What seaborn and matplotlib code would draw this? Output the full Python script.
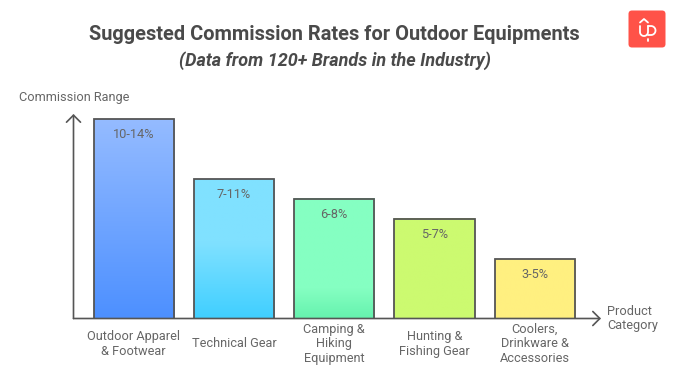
import numpy as np
import pandas as pd
import matplotlib.pyplot as plt
import matplotlib.patches as mpatches
from matplotlib.colors import LinearSegmentedColormap
import seaborn as sns

categories = ['Outdoor Apparel\n& Footwear', 'Technical Gear', 'Camping &\nHiking\nEquipment',
              'Hunting &\nFishing Gear', 'Coolers,\nDrinkware &\nAccessories']
low_rates = [10, 7, 6, 5, 3]
range_labels = ['10-14%', '7-11%', '6-8%', '5-7%', '3-5%']
top_colors = ['#94BBFF', '#80E1FF', '#85FFC2', '#CCFA70', '#FFF080']
bottom_colors = ['#4D90FF', '#40CFFF', '#66F2AE', '#CCFA70', '#FFF080']
# fraction of the bar height that stays at the top colour
flat_until = [0.0, 0.45, 0.75, 0.0, 0.0]

TEXT = '#666666'
DARK = '#4A4A4A'
EDGE = '#555555'
W, H = 681, 384
PX = 0.72  # points per pixel at dpi 100

sns.set_theme(style='white')
plt.rcParams['font.family'] = ['Roboto', 'DejaVu Sans']

fig = plt.figure(figsize=(W / 100, H / 100), dpi=100)
# axes box in pixels: spine at x=73, baseline at y=318.5
left, right, top, bottom = 73.5, 601, 114, 318.5
ax = fig.add_axes([left / W, 1 - bottom / H, (right - left) / W, (bottom - top) / H])

df = pd.DataFrame({'category': categories, 'rate': low_rates})
sns.barplot(data=df, x='category', y='rate', ax=ax, width=0.8, color='white',
            edgecolor=EDGE, linewidth=1.3, zorder=3)

# gradient fills clipped to each bar
for bar, c0, c1, flat, label in zip(ax.patches, top_colors, bottom_colors, flat_until, range_labels):
    cmap = LinearSegmentedColormap.from_list('bar', [(0, c0), (flat, c0), (1, c1)] if flat else [c0, c1])
    x0, w, h = bar.get_x(), bar.get_width(), bar.get_height()
    ax.imshow(np.linspace(0, 1, 64).reshape(-1, 1), cmap=cmap, aspect='auto',
              extent=(x0, x0 + w, 0, h), zorder=2, interpolation='bilinear')
    bar.set_facecolor('none')
    ax.text(x0 + w / 2, h - 0.78, label, ha='center', va='center', fontsize=9.2,
            color=TEXT, zorder=4)
ax.set_xlim(-0.6, 4.66)
ax.set_ylim(0, (bottom - top) / 20)

ax.set_xlabel('')
ax.set_ylabel('')
ax.set_xticks(range(5))
ax.set_xticklabels([])
ax.set_yticks([])
ax.tick_params(length=0)
sns.despine(ax=ax, top=True, right=True, left=True, bottom=True)

# axis arrows
arrow = dict(arrowstyle='->,head_length=0.42,head_width=0.42', color=EDGE, lw=1.2,
             shrinkA=0, shrinkB=0)
ax.annotate('', xy=(0, 1), xytext=(0, 0), xycoords='axes fraction', arrowprops=arrow, zorder=5)
ax.annotate('', xy=(1, 0), xytext=(0, 0), xycoords='axes fraction', arrowprops=arrow, zorder=5)

for i, name in enumerate(categories):
    ax.annotate(name, xy=(i, 0), xytext=(0, -25.3 * PX), textcoords='offset points',
                ha='center', va='center', fontsize=9.15, color=TEXT, linespacing=1.18)


def pix_text(x, y, s, **kw):
    fig.text(x / W, 1 - y / H, s, ha=kw.pop('ha', 'center'), va=kw.pop('va', 'center'), **kw)


pix_text(334, 35, 'Suggested Commission Rates for Outdoor Equipments',
         fontsize=14.4, fontweight='bold', color=DARK)
pix_text(334.5, 61, '(Data from 120+ Brands in the Industry)',
         fontsize=12.95, fontweight='bold', fontstyle='italic', color=DARK)
pix_text(19, 98, 'Commission Range', ha='left', fontsize=9.15, color=TEXT)
pix_text(607, 318.5, 'Product\nCategory', ha='left', fontsize=9.15, color=TEXT, linespacing=1.18)

# logo badge, drawn in pixel coordinates
logo = fig.add_axes([0, 0, 1, 1], zorder=10)
logo.set_xlim(0, W)
logo.set_ylim(H, 0)
logo.axis('off')
logo.patch.set_alpha(0)
logo.add_patch(mpatches.FancyBboxPatch((630.5, 12.5), 33, 33, boxstyle='round,pad=2,rounding_size=3.5',
                                       fc='#FF5248', ec='none'))
glyph = dict(color='white', lw=1.3, solid_capstyle='round')
logo.plot([640, 644, 648], [22.5, 19, 22.5], **glyph)
t = np.linspace(np.pi, 0, 20)
logo.plot(np.r_[640, 644 + 4 * np.cos(t), 648], np.r_[26, 32 + 4 * np.sin(t), 26], **glyph)
t2 = np.linspace(-np.pi / 2, np.pi / 2, 20)
logo.plot(np.r_[648, 651 + 4.5 * np.cos(t2), 648], np.r_[26, 30.5 + 4.5 * np.sin(t2), 35], **glyph)
logo.plot([648, 648], [39, 41], **glyph)

fig.savefig('out.png', dpi=100)
